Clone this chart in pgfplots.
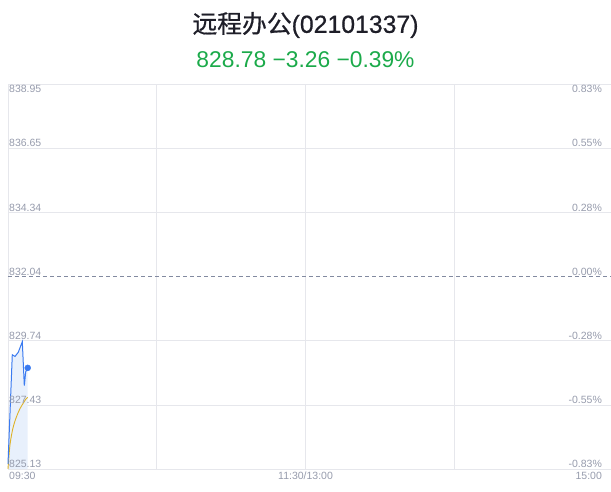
\documentclass[border=0pt]{standalone}
\usepackage{pgfplots}
\pgfplotsset{compat=1.18}
\usepackage{fontspec}
\setmainfont{Liberation Sans}
\newfontfamily\cjk[FakeBold=0.6]{Noto Sans CJK SC}
\newfontfamily\titlesans[FakeBold=0.6]{Liberation Sans}
\definecolor{gridgray}{RGB}{230,231,236}
\definecolor{labelgray}{RGB}{150,155,172}
\definecolor{linblue}{RGB}{59,123,240}
\definecolor{fillblue}{RGB}{232,240,252}
\definecolor{avgyellow}{RGB}{222,178,40}
\definecolor{upgreen}{RGB}{27,170,74}
\definecolor{dashgray}{RGB}{130,138,160}
\definecolor{titleblack}{RGB}{30,30,40}

\begin{document}
\begin{tikzpicture}[x=1pt,y=1pt]
\path[use as bounding box] (0,0) rectangle (611,492);
\node[font=\fontsize{24.8}{28}\selectfont, text=titleblack] at (305.5,467) {{\cjk 远程办公}{\titlesans(02101337)}};
\node[font=\fontsize{22.8}{26}\selectfont, text=upgreen] at (305.5,432) {828.78 −3.26 −0.39\%};
\begin{axis}[
  at={(8pt,23pt)}, anchor=south west,
  scale only axis,
  width=603pt, height=385pt,
  xmin=0, xmax=243.2,
  ymin=825.13, ymax=838.95,
  xtick={60,120,180}, xticklabels={},
  ytick={827.43,829.74,834.34,836.65}, yticklabels={},
  major tick length=0pt,
  grid=major,
  grid style={gridgray, line width=0.8pt},
  axis line style={gridgray, line width=0.8pt},
  clip=false,
]
\draw[dashgray, line width=0.7pt, dash pattern=on 4pt off 3pt] (axis cs:0,832.04) -- (axis cs:243.2,832.04);

\addplot[fill=fillblue, draw=none] coordinates {
  (0,825.31) (1.73,829.23) (2.82,829.17) (4.15,829.32) (5.77,829.70)
  (6.58,828.12) (7.14,828.62) (7.95,828.76) (7.95,825.13) (0,825.13)
} -- cycle;
\addplot[avgyellow, line width=0.9pt, smooth] coordinates {
  (0,825.13) (0.8,826.0) (2.0,826.6) (3.4,827.0) (4.8,827.29) (6.2,827.5) (7.3,827.65) (7.95,827.70)
};
\addplot[linblue, line width=1pt] coordinates {
  (0,825.31) (1.73,829.23) (2.82,829.17) (4.15,829.32) (5.77,829.70)
  (6.58,828.12) (7.14,828.62) (7.95,828.76)
};
\addplot[only marks, mark=*, mark size=3pt, linblue] coordinates {(7.95,828.76)};

\begin{scope}[every node/.style={font=\fontsize{10.5}{12}\selectfont, text=labelgray, inner sep=1pt}]
\node[anchor=north west] at (axis cs:0,838.95) {838.95};
\node[anchor=south west] at (axis cs:0,836.65) {836.65};
\node[anchor=south west] at (axis cs:0,834.34) {834.34};
\node[anchor=south west] at (axis cs:0,832.04) {832.04};
\node[anchor=south west] at (axis cs:0,829.74) {829.74};
\node[anchor=south west] at (axis cs:0,827.43) {827.43};
\node[anchor=south west] at (axis cs:0,825.13) {825.13};
\node[anchor=north east] at (axis cs:240,838.95) {0.83\%};
\node[anchor=south east] at (axis cs:240,836.65) {0.55\%};
\node[anchor=south east] at (axis cs:240,834.34) {0.28\%};
\node[anchor=south east] at (axis cs:240,832.04) {0.00\%};
\node[anchor=south east] at (axis cs:240,829.74) {-0.28\%};
\node[anchor=south east] at (axis cs:240,827.43) {-0.55\%};
\node[anchor=south east] at (axis cs:240,825.13) {-0.83\%};
\node[anchor=north west, yshift=-1.5pt] at (axis cs:0,825.13) {09:30};
\node[anchor=north, yshift=-1.5pt] at (axis cs:120,825.13) {11:30/13:00};
\node[anchor=north east, yshift=-1.5pt] at (axis cs:240,825.13) {15:00};
\end{scope}
\end{axis}
\end{tikzpicture}
\end{document}
